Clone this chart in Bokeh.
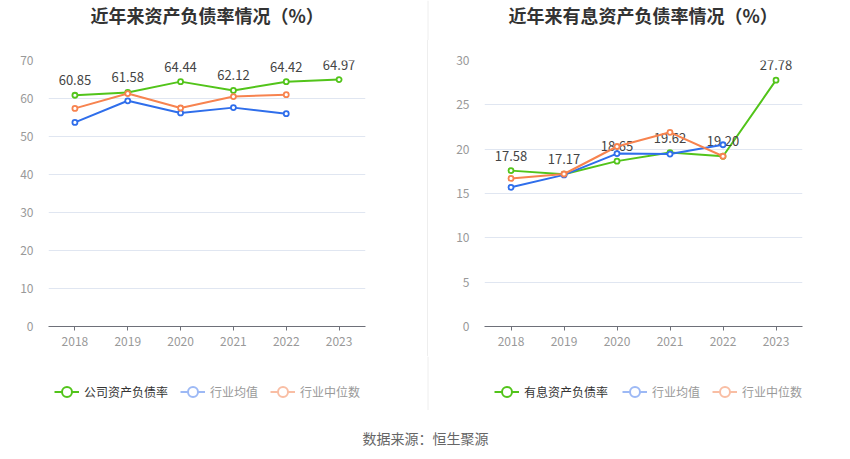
from bokeh.plotting import figure
from bokeh.models import (ColumnDataSource, FactorRange, Range1d, FixedTicker,
                          Legend, LegendItem, Label, Div, Span)
from bokeh.layouts import row, column
from bokeh.embed import file_html
from bokeh.resources import INLINE
from bokeh.core.properties import value

# ---------------- data ----------------
years = ["2018", "2019", "2020", "2021", "2022", "2023"]
ind_years = ["2018", "2019", "2020", "2021", "2022"]

debt_company = [60.85, 61.58, 64.44, 62.12, 64.42, 64.97]
debt_ind_mean = [53.7, 59.4, 56.2, 57.6, 56.0]
debt_ind_median = [57.4, 61.3, 57.5, 60.5, 61.0]

int_company = [17.58, 17.17, 18.65, 19.62, 19.20, 27.78]
int_ind_mean = [15.7, 17.1, 19.5, 19.45, 20.5]
int_ind_median = [16.7, 17.2, 20.3, 21.9, 19.2]

left_title = "近年来资产负债率情况（%）"
right_title = "近年来有息资产负债率情况（%）"
left_series = ["公司资产负债率", "行业均值", "行业中位数"]
right_series = ["有息资产负债率", "行业均值", "行业中位数"]
source_text = "数据来源：恒生聚源"

# ---------------- style ----------------
FONT = "Noto Sans CJK SC"
GREEN = "#52C41A"
BLUE = "#2F6EEB"
ORANGE = "#F7834F"
PALE_BLUE = "#9DB9F5"
PALE_ORANGE = "#F9BEA4"
DIVIDER = "#EEEEEE"
W = 850


def strip(height):
    f = figure(width=W, height=height, x_range=Range1d(0, W),
               y_range=Range1d(0, height), x_axis_type=None, y_axis_type=None,
               toolbar_location=None, output_backend="svg", min_border=0)
    f.outline_line_color = None
    f.grid.visible = False
    return f


def make_panel(width, left, right, ymax, ystep, company, mean, median):
    p = figure(x_range=FactorRange(factors=years), y_range=Range1d(0, ymax),
               width=width, height=316, min_border_left=left,
               min_border_right=right, min_border_top=20, min_border_bottom=30,
               toolbar_location=None, output_backend="svg")
    p.outline_line_color = None
    p.xgrid.visible = False
    p.ygrid.grid_line_color = "#E0E6F1"
    p.ygrid.grid_line_width = 1

    p.yaxis.ticker = FixedTicker(ticks=list(range(0, ymax + 1, ystep)))
    p.yaxis.axis_line_color = None
    p.yaxis.major_tick_line_color = None
    p.yaxis.minor_tick_line_color = None
    p.yaxis.major_label_text_color = "#999999"
    p.yaxis.major_label_text_font = FONT
    p.yaxis.major_label_text_font_size = "12px"
    p.yaxis.major_label_standoff = 9

    p.xaxis.axis_line_color = "#6E7079"
    p.xaxis.major_tick_line_color = "#6E7079"
    p.xaxis.major_tick_in = 0
    p.xaxis.major_tick_out = 4
    p.xaxis.major_label_text_color = "#999999"
    p.xaxis.major_label_text_font = FONT
    p.xaxis.major_label_text_font_size = "12px"
    p.xaxis.major_label_standoff = 6

    src_c = ColumnDataSource(data=dict(x=years, y=company,
                                       label=[f"{v:.2f}" for v in company]))
    src_m = ColumnDataSource(data=dict(x=ind_years, y=mean))
    src_d = ColumnDataSource(data=dict(x=ind_years, y=median))

    p.line(x="x", y="y", source=src_c, line_color=GREEN, line_width=2)
    p.scatter(x="x", y="y", source=src_c, marker="circle", size=5,
              fill_color="white", line_color=GREEN, line_width=1.8)
    p.text(x="x", y="y", text="label", source=src_c, text_font=value(FONT),
           text_font_size="13px", text_color="#444444", text_align="center",
           text_baseline="middle", y_offset=-15)

    p.line(x="x", y="y", source=src_m, line_color=BLUE, line_width=2)
    p.scatter(x="x", y="y", source=src_m, marker="circle", size=5,
              fill_color="white", line_color=BLUE, line_width=1.8)

    p.line(x="x", y="y", source=src_d, line_color=ORANGE, line_width=2)
    p.scatter(x="x", y="y", source=src_d, marker="circle", size=5,
              fill_color="white", line_color=ORANGE, line_width=1.8)
    return p


# ---------------- title strip ----------------
top = strip(40)
top.add_layout(Span(location=427.5, dimension="height", line_color=DIVIDER, line_width=1))
for tx, tt in ((90, left_title), (508, right_title)):
    top.add_layout(Label(x=tx, y=26, text=tt, text_align="left",
                         text_baseline="middle", text_font=FONT,
                         text_font_size="18px", text_font_style="bold",
                         text_color="#333333"))

# ---------------- charts ----------------
p1 = make_panel(427, 48, 62, 70, 10, debt_company, debt_ind_mean, debt_ind_median)
p2 = make_panel(422, 56, 48, 30, 5, int_company, int_ind_mean, int_ind_median)
divider = Div(text="", width=1, height=316, margin=0,
              styles={"background-color": DIVIDER})

# ---------------- legend strip ----------------
leg = strip(54)
leg.add_layout(Span(location=427.5, dimension="height", line_color=DIVIDER, line_width=1))


def icon(color):
    e = ColumnDataSource(data=dict(x=[float("nan")], y=[float("nan")]))
    r1 = leg.line(x="x", y="y", source=e, line_color=color, line_width=2)
    r2 = leg.scatter(x="x", y="y", source=e, marker="circle", size=10,
                     fill_color="white", line_color=color, line_width=2)
    return [r1, r2]


def add_legend(items, x, color):
    lg = Legend(items=items, location=(x, 6), orientation="horizontal",
                border_line_color=None, background_fill_alpha=0, padding=0,
                margin=0, spacing=12, label_standoff=5, glyph_width=25,
                glyph_height=25, label_text_font=FONT, label_text_font_size="12px",
                label_text_color=color, label_text_baseline="middle")
    leg.add_layout(lg, "center")


for names, x0, x1 in ((left_series, 54, 180), (right_series, 494, 622)):
    add_legend([LegendItem(label=names[0], renderers=icon(GREEN))], x0, "#333333")
    add_legend([LegendItem(label=names[1], renderers=icon(PALE_BLUE)),
                LegendItem(label=names[2], renderers=icon(PALE_ORANGE))], x1, "#999999")

# ---------------- source strip ----------------
src = strip(48)
src.add_layout(Label(x=W / 2, y=21, text=source_text, text_align="center",
                     text_baseline="middle", text_font=FONT,
                     text_font_size="14px", text_color="#666666"))

layout = column(top, row(p1, divider, p2), leg, src)

open("out.html", "w").write(file_html(layout, INLINE))
